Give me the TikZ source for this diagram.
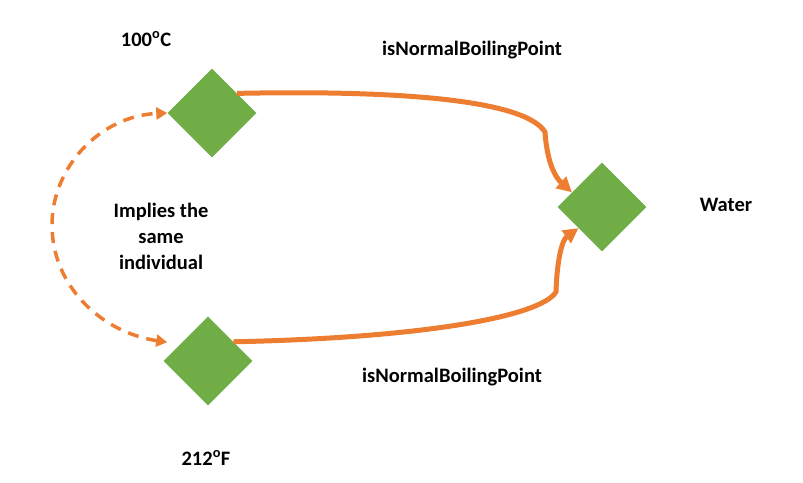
\documentclass[tikz,border=0pt]{standalone}
\usepackage{fontspec}
\setmainfont{Carlito}
\usetikzlibrary{shapes.geometric,arrows.meta,positioning}
\definecolor{officeorange}{RGB}{237,125,49}
\definecolor{officegreen}{RGB}{112,173,71}

\begin{document}
\begin{tikzpicture}[x=1pt, y=1pt,
  individual/.style={diamond, fill=officegreen, inner sep=0pt, minimum width=89pt, minimum height=89pt},
  label/.style={font=\fontsize{20.5}{26}\selectfont\bfseries, align=center},
  relation/.style={-{Triangle[length=15pt, width=15pt]}, line width=5pt, officeorange},
  implies/.style={{Triangle[length=11pt, width=12pt]}-{Triangle[length=11pt, width=12pt]}, line width=3.5pt, officeorange, dash pattern=on 11pt off 8pt}]
  \useasboundingbox (0,0) rectangle (803,482);
  \node[individual] (celsius) at (212,369) {};
  \node[individual] (fahrenheit) at (208,121) {};
  \node[individual] (water) at (602,275) {};
  \node[label] (celsiuslabel) at (146,443) {100\textsuperscript{o}C};
  \node[label] (fahrenheitlabel) at (206,24) {212\textsuperscript{o}F};
  \node[label] (waterlabel) at (726,277) {Water};
  \node[label] (toprel) at (472,432) {isNormalBoilingPoint};
  \node[label] (bottomrel) at (452,105) {isNormalBoilingPoint};
  \node[label] (implieslabel) at (161,246) {Implies the\\same\\individual};
  \draw[relation] (celsius.38) .. controls (400,392) and (525,382) .. (545,350)
    .. controls (547,320) and (555,305) .. (water.154);
  \draw[relation] (fahrenheit.37) .. controls (420,144) and (540,165) .. (556,190)
    .. controls (557,222) and (562,242) .. (water.222);
  \draw[implies, shorten <=13pt] (fahrenheit.149) .. controls (100,150) and (52,197) .. (52,257)
    .. controls (52,315) and (100,366) .. (celsius.west);
\end{tikzpicture}
\end{document}
